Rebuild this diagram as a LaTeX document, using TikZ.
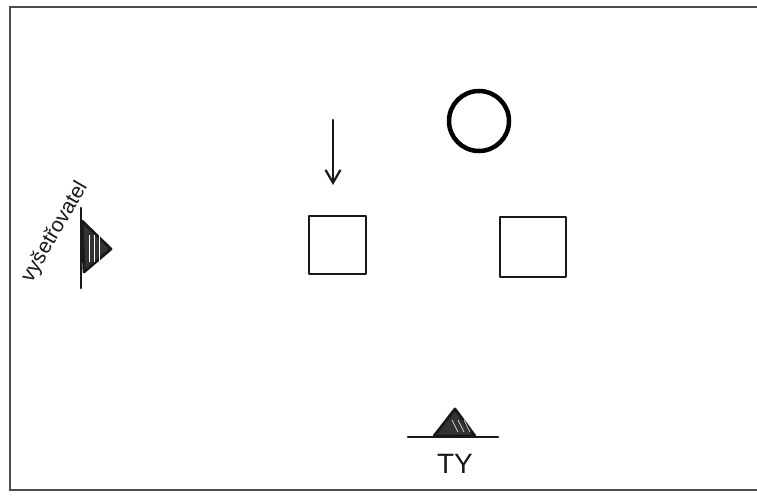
\documentclass[tikz,border=0pt]{standalone}
\usepackage{fontspec}
\setmainfont{Liberation Sans}
\usetikzlibrary{arrows.meta}
\begin{document}
\begin{tikzpicture}[x=1pt,y=-1pt,
  frameline/.style={draw=black!70,line width=1.2pt},
  pen/.style={draw=black!90,line width=2.8pt,line cap=round,line join=round},
  hatched/.style={pen,fill=black!80},
  lbl/.style={text=black!90,inner sep=0pt}]
\useasboundingbox (0,0) rectangle (757,495);
\fill[white] (0,0) rectangle (757,495);
% frame
\draw[frameline] (757,7) -- (10,7) -- (10,490) -- (757,490);
% left figure
\coordinate (lt) at (81,208);
\coordinate (lb) at (81,288);
\draw[pen] (lt) -- (lb);
\filldraw[hatched] (82,221) -- (111,249) -- (84,272) -- cycle;
\foreach \x in {89,94,99} \draw[white,line width=0.6pt] (\x,235) -- (\x,262);
\node[lbl,font=\fontsize{21}{21}\selectfont,rotate=60] (teacher) at (55,232) {vyšetřovatel};
% arrow and first square
\coordinate (arrtop) at (333,120);
\node[pen,minimum width=57pt,minimum height=58pt,inner sep=0pt] (sq1) at (337.5,245) {};
\draw[pen,line width=2.2pt,-{Straight Barb[length=13pt,width=15pt,line width=2.2pt]}] (arrtop) -- (333,185);
% circle
\node[draw=black,line width=4.5pt,circle,minimum size=60pt,inner sep=0pt] (circ) at (479,121) {};
% second square
\node[pen,minimum width=66pt,minimum height=60pt,inner sep=0pt] (sq2) at (533,247) {};
% bottom figure
\coordinate (bl) at (408,437);
\coordinate (br) at (498,437);
\draw[pen] (bl) -- (br);
\filldraw[hatched] (434,436) -- (455,409) -- (475,436) -- cycle;
\foreach \x in {452,458,464} \draw[white,line width=0.6pt] (\x,420) -- (\x+6,432);
\node[lbl,font=\fontsize{28}{28}\selectfont] (tv) at (455,464) {TY};
\end{tikzpicture}
\end{document}
